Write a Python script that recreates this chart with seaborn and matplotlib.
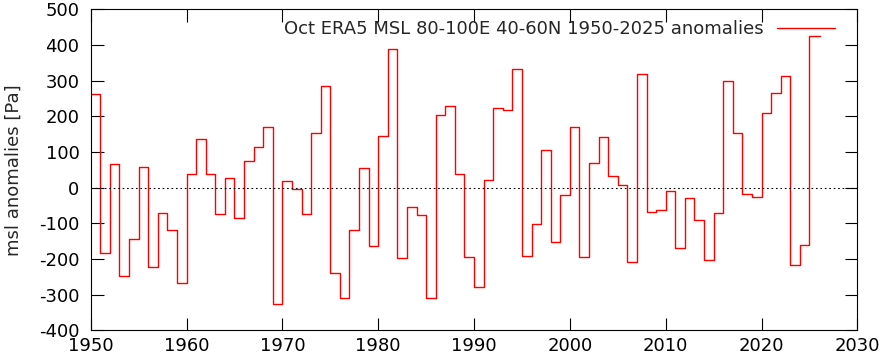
import numpy as np
import pandas as pd
import matplotlib
matplotlib.use('Agg')
import matplotlib.pyplot as plt
import seaborn as sns

# October MSL anomalies [Pa], 1950-2025
years = np.arange(1950, 2026)
anomalies = [262, -184, 65, -249, -145, 57, -223, -72, -119, -268,
             37, 135, 37, -75, 26, -86, 74, 114, 169, -327,
             19, -5, -75, 152, 284, -240, -310, -119, 54, -165,
             144, 390, -198, -55, -78, -310, 205, 228, 38, -195,
             -280, 20, 222, 217, 334, -193, -103, 105, -153, -22,
             169, -195, 68, 141, 32, 6, -209, 320, -69, -64,
             -10, -170, -30, -91, -203, -71, 298, 152, -18, -27,
             208, 264, 312, -218, -162, 425]
label = 'Oct ERA5 MSL 80-100E 40-60N 1950-2025 anomalies'

# step edges: each value held for one year, last one slightly longer
df = pd.DataFrame({'year': years, 'anom': anomalies})
df = pd.concat([df, pd.DataFrame({'year': [2026.1], 'anom': [anomalies[-1]]})],
               ignore_index=True)

sns.set_style('ticks')
plt.rcParams['font.family'] = ['DejaVu Sans']
plt.rcParams['axes.unicode_minus'] = False

fig = plt.figure(figsize=(8.82, 3.58), dpi=100)
ax = fig.add_axes([0.1028, 0.0774, 0.8693, 0.8966])

sns.lineplot(data=df, x='year', y='anom', drawstyle='steps-post', color='red',
             linewidth=1.0, estimator=None, sort=False, ax=ax, label=label)
ax.axhline(0, color='black', linewidth=0.8, linestyle=(0, (1.5, 2.5)))

ax.set_xlim(1950, 2030)
ax.set_ylim(-400, 500)
ax.set_xticks(range(1950, 2031, 10))
ax.set_yticks(range(-400, 501, 100))
ax.set_xlabel('')
ax.set_ylabel('msl anomalies [Pa]', fontsize=13)
ax.yaxis.set_label_coords(-0.088, 0.5)

ax.tick_params(direction='in', length=9, width=0.8, top=True, right=True,
               labelsize=13, colors='black')
ax.tick_params(axis='y', pad=8)
ax.tick_params(axis='x', pad=5)
for s in ax.spines.values():
    s.set_visible(True)
    s.set_linewidth(0.8)
    s.set_color('black')

ax.legend(loc='upper right', bbox_to_anchor=(1 - 12 / 766, 1.0),
          frameon=False, markerfirst=False, fontsize=13,
          handlelength=3.2, handletextpad=0.72, borderaxespad=0.3,
          borderpad=0.3)

fig.savefig('out.png', dpi=100)
